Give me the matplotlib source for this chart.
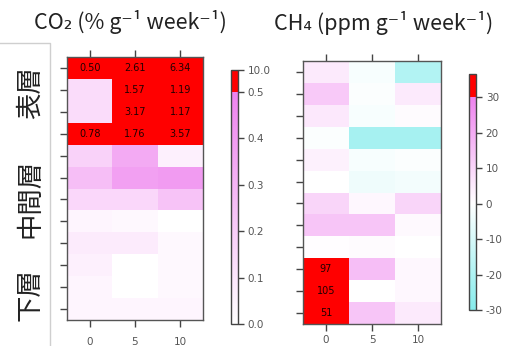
import numpy as np
import matplotlib
matplotlib.use('Agg')
import matplotlib.pyplot as plt
from matplotlib.colors import LinearSegmentedColormap, FuncNorm, Normalize
from matplotlib.lines import Line2D

# ==========================================
# 1. DADOS (linhas de cima para baixo; colunas = 0, 5, 10)
# ==========================================
dias = [0, 5, 10]
camadas = ['表層', '中間層', '下層']

co2 = [
    [0.504, 2.61, 6.34],
    [0.14, 1.57, 1.19],
    [0.14, 3.17, 1.17],
    [0.78, 1.76, 3.57],
    [0.18, 0.34, 0.06],
    [0.26, 0.38, 0.40],
    [0.16, 0.16, 0.24],
    [0.04, 0.03, 0.00],
    [0.08, 0.08, 0.03],
    [0.06, 0.00, 0.03],
    [0.04, 0.00, 0.03],
    [0.04, 0.04, 0.04],
]

ch4 = [
    [5, -2, -19],
    [13, -1, 5],
    [5.5, -2, 1],
    [-1, -22, -22],
    [3.5, -2, -1],
    [0, -4, -3],
    [10, 2, 10],
    [14, 14, 1.5],
    [0.5, 1, 0],
    [97, 15.6, 2],
    [105, 0, 2],
    [51, 14, 5],
]

co2_ticks = [0.0, 0.1, 0.2, 0.3, 0.4, 0.5, 10.0]
co2_ticklabels = ['0.0', '0.1', '0.2', '0.3', '0.4', '0.5', '10.0']
ch4_ticks = [-30, -20, -10, 0, 10, 20, 30]
ch4_ticklabels = ['-30', '-20', '-10', '0', '10', '20', '30']

# ==========================================
# 2. CORES / NORMAS
# ==========================================
VIOLET = '#EE82EE'
CYAN = '#86ECEC'
RED = '#FF0000'
JP = ['Noto Sans CJK JP', 'DejaVu Sans']
LAB = '#555555'

f_red = 0.913  # fracao da barra ocupada pela parte rosa (0 - 0.5)
co2_cmap = LinearSegmentedColormap.from_list(
    'co2', [(0, 'white'), (f_red, VIOLET), (f_red, RED), (1, RED)], N=1024)
co2_norm = FuncNorm(
    (lambda v: np.interp(v, [0, 0.5, 10], [0, f_red, 1]),
     lambda t: np.interp(t, [0, f_red, 1], [0, 0.5, 10])),
    vmin=0, vmax=10)

ch4_top = 36.5
ch4_span = ch4_top + 30
ch4_cmap = LinearSegmentedColormap.from_list(
    'ch4', [(0, CYAN), (30 / ch4_span, 'white'), (60 / ch4_span, VIOLET),
            (60 / ch4_span, RED), (1, RED)], N=1024)
ch4_cmap.set_over(RED)
ch4_norm = Normalize(vmin=-30, vmax=ch4_top)

W, H = 520, 346


def px(x0, y0, x1, y1):
    return [x0 / W, 1 - y1 / H, (x1 - x0) / W, (y1 - y0) / H]


fig = plt.figure(figsize=(W / 100, H / 100), dpi=100)
fig.patch.set_facecolor('white')


def heatmap(rect, data, cmap, norm, lim, fmt, pad):
    ax = fig.add_axes(rect)
    arr = np.array(data, dtype=float)
    nrow = arr.shape[0]
    x_edges = [-2.5, 2.5, 7.5, 12.5]
    y_edges = np.arange(nrow + 1) + 0.5
    mesh = ax.pcolormesh(x_edges, y_edges, arr, cmap=cmap, norm=norm)
    ax.set_xlim(-2.5, 12.5)
    ax.set_ylim(nrow + 0.5, 0.5)
    ax.set_xticks(dias)
    ax.set_xticklabels([str(d) for d in dias])
    ax.set_yticks(np.arange(1, nrow + 1))
    ax.set_yticklabels([])
    ax.tick_params(top=True, labeltop=False, right=False, length=5, width=1,
                   color='#444444', labelsize=7.5, labelcolor=LAB, pad=pad)
    for s in ax.spines.values():
        s.set_color('#555555')
        s.set_linewidth(1)
    for i in range(nrow):
        for j, d in enumerate(dias):
            if arr[i, j] > lim:
                ax.text(d, i + 1, fmt.format(arr[i, j]), ha='center',
                        va='center', fontsize=7, color='#220000')
    return mesh


def barra(mesh, rect, ticks, labels):
    cax = fig.add_axes(rect)
    cb = fig.colorbar(mesh, cax=cax)
    cb.set_ticks(ticks)
    cb.set_ticklabels(labels)
    cb.outline.set_edgecolor('#444444')
    cb.outline.set_linewidth(1)
    cax.tick_params(length=4, width=1, color='#444444', labelsize=7.5,
                    labelcolor=LAB, pad=3)
    cb.minorticks_off()
    return cb


# ==========================================
# 3. MAPAS DE CALOR
# ==========================================
m1 = heatmap(px(67, 57, 203, 320), co2, co2_cmap, co2_norm, 0.5, '{:.2f}', 7)
barra(m1, px(231, 70, 238, 324), co2_ticks, co2_ticklabels)

m2 = heatmap(px(303, 61, 441, 324), ch4, ch4_cmap, ch4_norm, 30, '{:.0f}', 3)
barra(m2, px(469, 74, 476, 310), ch4_ticks, ch4_ticklabels)

# ==========================================
# 4. TITULOS E ROTULOS
# ==========================================
fig.text(130 / W, 1 - 22 / H, 'CO₂ (% g⁻¹ week⁻¹)', ha='center', va='center',
         fontsize=15.5, family=JP, color='#222222')
fig.text(384 / W, 1 - 23 / H, 'CH₄ (ppm g⁻¹ week⁻¹)', ha='center', va='center',
         fontsize=15.5, family=JP, color='#222222')

for nome, yc in zip(camadas, [93, 198, 295]):
    fig.text(30 / W, 1 - yc / H, nome, rotation=90, ha='center', va='center',
             fontsize=19, family=JP, color='#222222')

# linha cinza do slide
fig.add_artist(Line2D([0, 50 / W, 50 / W], [1 - 43 / H, 1 - 43 / H, 0],
                      transform=fig.transFigure, color='#cfcfcf', lw=1))

fig.savefig('out.png', dpi=100)
